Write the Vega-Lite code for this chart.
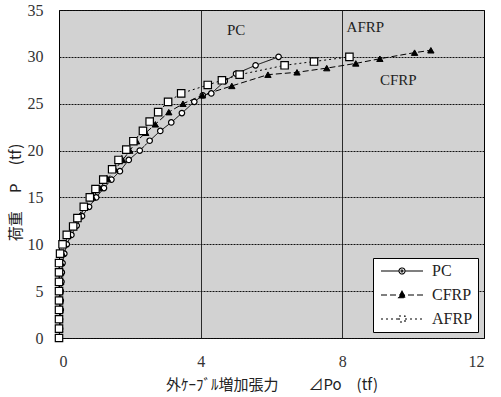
{
  "$schema": "https://vega.github.io/schema/vega-lite/v6.json",
  "autosize": "none",
  "width": 425,
  "height": 328,
  "padding": {"left": 59, "top": 10, "right": 17, "bottom": 59},
  "background": "white",
  "config": {
    "view": {"fill": "#d2d2d2", "stroke": "black", "strokeWidth": 1},
    "font": "Liberation Serif",
    "axis": {"labelFont": "Liberation Serif", "titleFont": "Noto Sans CJK JP", "labelColor": "#333", "titleColor": "#222", "domain": false, "ticks": false}
  },
  "datasets": {
    "curves": [
      {"series": "PC", "x": 0, "y": 0}, {"series": "PC", "x": 0.03, "y": 1}, {"series": "PC", "x": 0.03, "y": 2}, {"series": "PC", "x": 0.05, "y": 3}, {"series": "PC", "x": 0.05, "y": 4}, {"series": "PC", "x": 0.05, "y": 5}, {"series": "PC", "x": 0.07, "y": 6}, {"series": "PC", "x": 0.08, "y": 7}, {"series": "PC", "x": 0.1, "y": 8}, {"series": "PC", "x": 0.15, "y": 9}, {"series": "PC", "x": 0.22, "y": 10}, {"series": "PC", "x": 0.35, "y": 11}, {"series": "PC", "x": 0.5, "y": 12}, {"series": "PC", "x": 0.65, "y": 13}, {"series": "PC", "x": 0.85, "y": 14}, {"series": "PC", "x": 1.05, "y": 15}, {"series": "PC", "x": 1.27, "y": 16}, {"series": "PC", "x": 1.48, "y": 16.9}, {"series": "PC", "x": 1.72, "y": 17.8}, {"series": "PC", "x": 1.97, "y": 19}, {"series": "PC", "x": 2.28, "y": 20}, {"series": "PC", "x": 2.56, "y": 21.05}, {"series": "PC", "x": 2.86, "y": 22.1}, {"series": "PC", "x": 3.17, "y": 23}, {"series": "PC", "x": 3.47, "y": 24}, {"series": "PC", "x": 3.82, "y": 25.2}, {"series": "PC", "x": 4.06, "y": 25.9}, {"series": "PC", "x": 4.3, "y": 26.1}, {"series": "PC", "x": 4.68, "y": 27.4}, {"series": "PC", "x": 5.0, "y": 28.2}, {"series": "PC", "x": 5.55, "y": 29.1}, {"series": "PC", "x": 6.2, "y": 30.0},
      {"series": "CFRP", "x": 0, "y": 0}, {"series": "CFRP", "x": 0.02, "y": 1}, {"series": "CFRP", "x": 0.02, "y": 2}, {"series": "CFRP", "x": 0.03, "y": 3}, {"series": "CFRP", "x": 0.03, "y": 4}, {"series": "CFRP", "x": 0.03, "y": 5}, {"series": "CFRP", "x": 0.05, "y": 6}, {"series": "CFRP", "x": 0.05, "y": 7}, {"series": "CFRP", "x": 0.06, "y": 8}, {"series": "CFRP", "x": 0.1, "y": 9}, {"series": "CFRP", "x": 0.15, "y": 10}, {"series": "CFRP", "x": 0.27, "y": 11}, {"series": "CFRP", "x": 0.42, "y": 12}, {"series": "CFRP", "x": 0.58, "y": 13}, {"series": "CFRP", "x": 0.75, "y": 14}, {"series": "CFRP", "x": 0.95, "y": 15}, {"series": "CFRP", "x": 1.15, "y": 16}, {"series": "CFRP", "x": 1.37, "y": 17}, {"series": "CFRP", "x": 1.58, "y": 18}, {"series": "CFRP", "x": 1.8, "y": 19}, {"series": "CFRP", "x": 2.0, "y": 20}, {"series": "CFRP", "x": 2.19, "y": 21}, {"series": "CFRP", "x": 2.45, "y": 21.9}, {"series": "CFRP", "x": 2.72, "y": 22.8}, {"series": "CFRP", "x": 3.1, "y": 24.1}, {"series": "CFRP", "x": 3.5, "y": 25.0}, {"series": "CFRP", "x": 4.05, "y": 25.9}, {"series": "CFRP", "x": 4.88, "y": 26.9}, {"series": "CFRP", "x": 5.9, "y": 28.1}, {"series": "CFRP", "x": 6.72, "y": 28.35}, {"series": "CFRP", "x": 7.56, "y": 28.8}, {"series": "CFRP", "x": 8.38, "y": 29.3}, {"series": "CFRP", "x": 9.06, "y": 29.8}, {"series": "CFRP", "x": 10.04, "y": 30.45}, {"series": "CFRP", "x": 10.5, "y": 30.7},
      {"series": "AFRP", "x": 0, "y": 0}, {"series": "AFRP", "x": 0, "y": 1}, {"series": "AFRP", "x": 0, "y": 2}, {"series": "AFRP", "x": 0, "y": 3}, {"series": "AFRP", "x": 0, "y": 4}, {"series": "AFRP", "x": 0, "y": 5}, {"series": "AFRP", "x": 0, "y": 6}, {"series": "AFRP", "x": 0, "y": 7}, {"series": "AFRP", "x": 0, "y": 8}, {"series": "AFRP", "x": 0.03, "y": 9}, {"series": "AFRP", "x": 0.1, "y": 10}, {"series": "AFRP", "x": 0.22, "y": 11}, {"series": "AFRP", "x": 0.4, "y": 11.9}, {"series": "AFRP", "x": 0.52, "y": 12.8}, {"series": "AFRP", "x": 0.7, "y": 14}, {"series": "AFRP", "x": 0.87, "y": 15}, {"series": "AFRP", "x": 1.03, "y": 15.9}, {"series": "AFRP", "x": 1.25, "y": 16.9}, {"series": "AFRP", "x": 1.5, "y": 18}, {"series": "AFRP", "x": 1.68, "y": 19}, {"series": "AFRP", "x": 1.9, "y": 20.1}, {"series": "AFRP", "x": 2.1, "y": 21}, {"series": "AFRP", "x": 2.37, "y": 22.1}, {"series": "AFRP", "x": 2.56, "y": 23.1}, {"series": "AFRP", "x": 2.8, "y": 24.1}, {"series": "AFRP", "x": 3.08, "y": 25.2}, {"series": "AFRP", "x": 3.45, "y": 26.1}, {"series": "AFRP", "x": 4.2, "y": 27}, {"series": "AFRP", "x": 4.6, "y": 27.5}, {"series": "AFRP", "x": 5.1, "y": 28.1}, {"series": "AFRP", "x": 6.37, "y": 29.1}, {"series": "AFRP", "x": 7.2, "y": 29.5}, {"series": "AFRP", "x": 8.2, "y": 30.0}
    ],
    "notes": [
      {"label": "PC", "x": 5.0, "y": 32.9},
      {"label": "AFRP", "x": 8.65, "y": 33.2},
      {"label": "CFRP", "x": 9.58, "y": 27.5}
    ]
  },
  "layer": [
    {
      "data": {"name": "curves"},
      "mark": {"type": "line", "color": "black", "strokeWidth": 1},
      "encoding": {
        "x": {"field": "x", "type": "quantitative", "scale": {"domain": [0, 12], "nice": false}, "axis": {"values": [0, 4, 8, 12], "grid": true, "gridColor": "black", "gridWidth": 0.8, "labelFontSize": 16, "labelPadding": 15, "title": "外ｹｰﾌﾞﾙ増加張力　　⊿Po　(tf)", "titleFontSize": 15, "titleFontWeight": "normal", "titlePadding": 8}},
        "y": {"field": "y", "type": "quantitative", "scale": {"domain": [0, 35], "nice": false}, "axis": {"values": [0, 5, 10, 15, 20, 25, 30, 35], "grid": true, "gridColor": "#111", "gridWidth": 1, "gridDash": [2, 1], "labelFontSize": 16, "labelPadding": 16, "title": "荷重　 P　 (tf)", "titleFontSize": 15, "titleFontWeight": "normal", "titlePadding": 4, "titleY": 182}},
        "strokeDash": {"field": "series", "type": "nominal", "scale": {"domain": ["PC", "CFRP", "AFRP"], "range": [[1, 0], [6, 3], [2, 3]]}, "legend": {"title": null, "orient": "bottom-right", "offset": 6, "fillColor": "white", "strokeColor": "black", "padding": 5, "rowPadding": 8, "labelFont": "Liberation Serif", "labelFontSize": 16, "labelColor": "#222", "symbolSize": 100, "symbolStrokeColor": "black", "symbolStrokeWidth": 1.1, "labelOffset": 38,
          "encode": {"symbols": {"update": {
            "shape": {"signal": "datum.value === 'PC' ? 'M-1,0H2.6M3.8,0H7.4M2.6,0A0.6,0.6,0,1,1,3.8,0A0.6,0.6,0,1,1,2.6,0ZM3.0,0A0.2,0.2,0,1,1,3.4,0A0.2,0.2,0,1,1,3.0,0Z' : datum.value === 'CFRP' ? 'M-1,0H7.4M3.2,-0.75L3.9,0.55L2.5,0.55Z' : 'M-1,0H2.6M3.8,0H7.4M2.6,-0.6H3.8V0.6H2.6Z'"},
            "fill": {"signal": "datum.value === 'CFRP' ? 'black' : 'white'"},
            "size": {"value": 100},
            "stroke": {"value": "black"}
          }}}}},
        "order": {"field": "y", "type": "quantitative"}
      }
    },
    {
      "data": {"name": "curves"},
      "transform": [{"filter": "datum.series === 'PC'"}],
      "mark": {"type": "point", "shape": "circle", "stroke": "black", "fill": "white", "strokeWidth": 1.2, "size": 30, "opacity": 1},
      "encoding": {
        "x": {"field": "x", "type": "quantitative"},
        "y": {"field": "y", "type": "quantitative"}
      }
    },
    {
      "data": {"name": "curves"},
      "transform": [{"filter": "datum.series === 'CFRP'"}],
      "mark": {"type": "point", "shape": "triangle-up", "stroke": "black", "fill": "black", "strokeWidth": 1, "size": 40, "opacity": 1},
      "encoding": {
        "x": {"field": "x", "type": "quantitative"},
        "y": {"field": "y", "type": "quantitative"}
      }
    },
    {
      "data": {"name": "curves"},
      "transform": [{"filter": "datum.series === 'AFRP'"}],
      "mark": {"type": "point", "shape": "square", "stroke": "black", "fill": "white", "strokeWidth": 1.2, "size": 55, "opacity": 1},
      "encoding": {
        "x": {"field": "x", "type": "quantitative"},
        "y": {"field": "y", "type": "quantitative"}
      }
    },
    {
      "data": {"name": "notes"},
      "mark": {"type": "text", "font": "Liberation Serif", "fontSize": 15, "color": "#222"},
      "encoding": {
        "x": {"field": "x", "type": "quantitative"},
        "y": {"field": "y", "type": "quantitative"},
        "text": {"field": "label", "type": "nominal"}
      }
    }
  ]
}
